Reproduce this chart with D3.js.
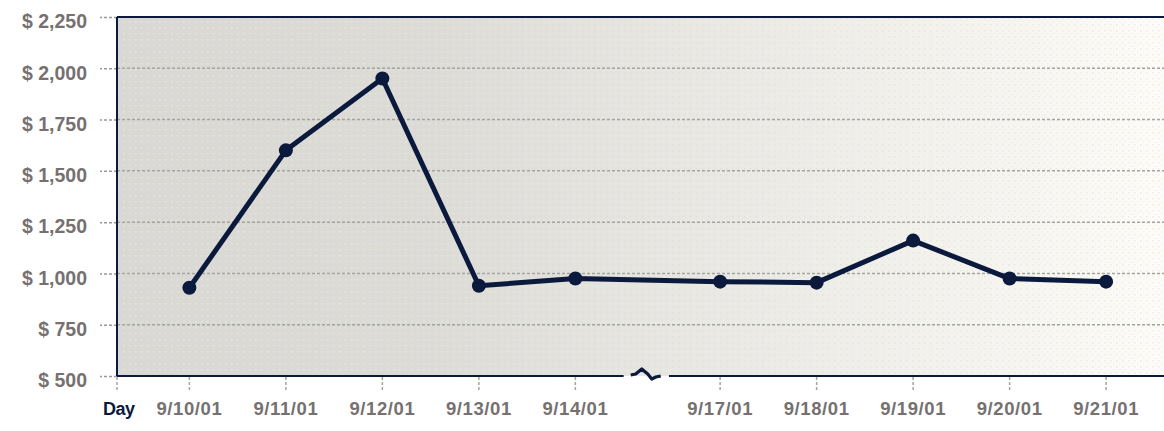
<!DOCTYPE html>
<html>
<head>
<meta charset="utf-8">
<script src="https://cdn.jsdelivr.net/npm/d3@7"></script>
<style>
  html, body { margin: 0; padding: 0; background: #ffffff; }
  svg { display: block; }
  text { font-family: "Liberation Sans", Arial, sans-serif; font-weight: bold; }
</style>
</head>
<body>
<svg id="chart" width="1164" height="431"></svg>
<script>
// ---- data ----
const categories = ["9/10/01", "9/11/01", "9/12/01", "9/13/01", "9/14/01",
                    "9/17/01", "9/18/01", "9/19/01", "9/20/01", "9/21/01"];
const values = [930, 1600, 1950, 940, 975, 960, 955, 1160, 975, 960];
const yTicks = [500, 750, 1000, 1250, 1500, 1750, 2000, 2250];
const xAxisTitle = "Day";
const breakAfter = "9/14/01"; // weekend gap shown as an axis break

// ---- layout ----
const plotLeft = 117, plotRight = 1164, plotTop = 17, plotBottom = 376;
const svg = d3.select("#chart");

// slot index: a half-slot gap is inserted after the break
const breakIdx = categories.indexOf(breakAfter);
const slot = categories.map((c, i) => i + (i > breakIdx ? 0.5 : 0));

const x = d3.scaleLinear().domain([-0.75, 10.1]).range([plotLeft, plotRight]);
const y = d3.scaleLinear().domain([500, 2250]).range([plotBottom, plotTop]);

// background gradient
const defs = svg.append("defs");
const grad = defs.append("linearGradient").attr("id", "bg").attr("x1", 0).attr("x2", 1).attr("y1", 0).attr("y2", 0);
[[0, "#d8d8d6"], [0.3, "#dbdbd8"], [0.5, "#e5e5e2"], [0.7, "#eeeeeb"], [0.88, "#f6f6f3"], [1, "#fcfcfa"]]
  .forEach(([o, c]) => grad.append("stop").attr("offset", o).attr("stop-color", c));

// dot texture
const pat = defs.append("pattern").attr("id", "dots").attr("width", 6).attr("height", 6).attr("patternUnits", "userSpaceOnUse");
pat.append("rect").attr("x", 0).attr("y", 0).attr("width", 1.5).attr("height", 1.5).attr("fill", "#f0d0cc").attr("opacity", 0.45);
pat.append("rect").attr("x", 3).attr("y", 3).attr("width", 1.5).attr("height", 1.5).attr("fill", "#f6f2c0").attr("opacity", 0.55);

svg.append("rect")
  .attr("x", plotLeft).attr("y", plotTop)
  .attr("width", plotRight - plotLeft).attr("height", plotBottom - plotTop)
  .attr("fill", "url(#bg)");
svg.append("rect")
  .attr("x", plotLeft).attr("y", plotTop)
  .attr("width", plotRight - plotLeft).attr("height", plotBottom - plotTop)
  .attr("fill", "url(#dots)");

// gridlines
svg.append("g")
  .selectAll("line")
  .data(yTicks.filter(v => v !== 500 && v !== 2250))
  .join("line")
  .attr("x1", plotLeft).attr("x2", plotRight)
  .attr("y1", d => y(d)).attr("y2", d => y(d))
  .attr("stroke", "#a4a4a0").attr("stroke-width", 1.5)
  .attr("stroke-dasharray", "3,2");

// y axis (ticks + labels)
const yAxis = d3.axisLeft(y)
  .tickValues(yTicks)
  .tickSize(17)
  .tickPadding(13)
  .tickFormat(d => "$ " + d3.format(",")(d));
const gy = svg.append("g").attr("transform", `translate(${plotLeft},0)`).call(yAxis);
gy.select(".domain").remove();
gy.selectAll(".tick line").attr("stroke", "#9a9890").attr("stroke-width", 1.5).attr("stroke-dasharray", "3,2");
gy.selectAll(".tick text")
  .attr("fill", "#767170")
  .attr("font-size", 19.5)
  .attr("letter-spacing", "0px")
  .attr("dy", "0.55em")
  .style("font-family", "'Liberation Sans', Arial, sans-serif")
  .style("font-weight", "bold");

// x axis ticks (including origin)
const xTickSlots = [-0.75].concat(slot);
svg.append("g")
  .selectAll("line")
  .data(xTickSlots)
  .join("line")
  .attr("x1", d => x(d)).attr("x2", d => x(d))
  .attr("y1", plotBottom + 1).attr("y2", plotBottom + 14)
  .attr("stroke", "#a8a498").attr("stroke-width", 1.5)
  .attr("stroke-dasharray", "3,2");

// x labels
svg.append("g")
  .selectAll("text")
  .data(categories)
  .join("text")
  .attr("x", (d, i) => x(slot[i]))
  .attr("y", 415)
  .attr("text-anchor", "middle")
  .attr("fill", "#767170")
  .attr("font-size", 18.5)
  .attr("letter-spacing", "0.6px")
  .text(d => d);

svg.append("text")
  .attr("x", 103).attr("y", 415)
  .attr("fill", "#0b1a3c")
  .attr("font-size", 18)
  .attr("letter-spacing", "-0.5px")
  .text(xAxisTitle);

// frame: top and left borders
const navy = "#0b1a3c";
svg.append("line").attr("x1", plotLeft).attr("x2", plotRight).attr("y1", plotTop).attr("y2", plotTop)
  .attr("stroke", navy).attr("stroke-width", 2);
svg.append("line").attr("x1", plotLeft).attr("x2", plotLeft).attr("y1", plotTop).attr("y2", plotBottom)
  .attr("stroke", navy).attr("stroke-width", 2);

// bottom axis with break
const gapStart = x(breakIdx + 0.5), gapEnd = x(breakIdx + 0.97);
svg.append("line").attr("x1", plotLeft).attr("x2", gapStart).attr("y1", plotBottom).attr("y2", plotBottom)
  .attr("stroke", navy).attr("stroke-width", 2);
svg.append("line").attr("x1", gapEnd).attr("x2", plotRight).attr("y1", plotBottom).attr("y2", plotBottom)
  .attr("stroke", navy).attr("stroke-width", 2);
const bx = x(breakIdx + 0.75);
svg.append("path")
  .attr("d", `M${bx - 17},${plotBottom - 1} L${bx - 12},${plotBottom - 2} L${bx - 6},${plotBottom - 7} L${bx},${plotBottom - 2} L${bx + 4},${plotBottom + 3} L${bx + 8},${plotBottom + 1} L${bx + 13},${plotBottom}`)
  .attr("fill", "none").attr("stroke", navy).attr("stroke-width", 3.2)
  .attr("stroke-linejoin", "round");

// line + markers
const pts = values.map((v, i) => [x(slot[i]), y(v)]);
svg.append("path")
  .datum(pts)
  .attr("d", d3.line())
  .attr("fill", "none")
  .attr("stroke", navy)
  .attr("stroke-width", 5)
  .attr("stroke-linejoin", "round");
svg.append("g")
  .selectAll("circle")
  .data(pts)
  .join("circle")
  .attr("cx", d => d[0]).attr("cy", d => d[1])
  .attr("r", 7)
  .attr("fill", navy);
</script>
</body>
</html>
